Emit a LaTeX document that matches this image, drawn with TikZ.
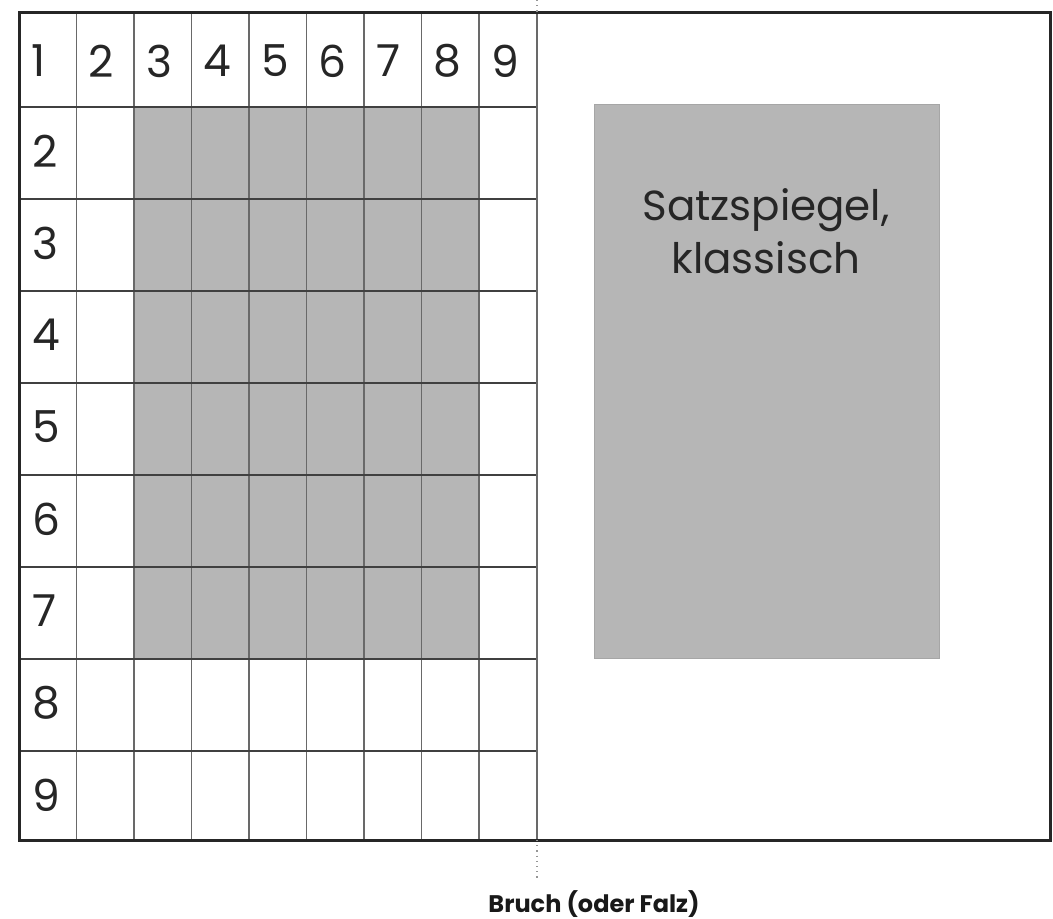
\documentclass[tikz,border=0pt]{standalone}
\usepackage{fontspec}
\setmainfont{Poppins}
\usepackage{xcolor}
\definecolor{satzgray}{RGB}{182,182,182}
\definecolor{rule}{RGB}{105,105,105}
\definecolor{fold}{RGB}{150,150,150}
\usepackage{tikz}
\usetikzlibrary{positioning}

\begin{document}
\begin{tikzpicture}[x=0.5pt, y=-0.5pt,
        frame/.style={line width=1.5pt, draw=black!85},
        vline/.style={line width=0.75pt, draw=rule},
        hline/.style={line width=0.8pt, draw=black!75},
        foldline/.style={line width=0.6pt, draw=fold, dotted},
        num/.style={anchor=west, inner sep=0pt, font=\fontsize{22}{22}\selectfont, text=black!85},
        satzbox/.style={rectangle, fill=satzgray, draw=black!35, line width=0.5pt, inner sep=0pt}
    ]
        \useasboundingbox (0,0) rectangle (1053,919);

        % type area, left page
        \fill[satzgray] (134,107) rectangle (479,659);
        % type area, right page
        \node[satzbox, minimum width=172.5pt, minimum height=276.5pt] (satz) at (766.5,381.5) {};
        \node[anchor=north, inner sep=0pt, align=center, font=\fontsize{21}{26.5}\selectfont, text=black!85]
            (satztext) at (766,188) {Satzspiegel,\\klassisch};

        % grid
        \foreach \i in {1,...,8}
            \draw[vline] (19+57.5*\i,13) -- (19+57.5*\i,840);
        \foreach \j in {0,...,7}
            \draw[hline] (19,107+92*\j) -- (537,107+92*\j);
        \draw[vline] (537,13) -- (537,840);
        \draw[frame] (19,13) rectangle (1050,840);

        % fold
        \coordinate (foldtop) at (537,0);
        \coordinate (foldbot) at (537,878);
        \draw[foldline] (foldtop) -- (537,13);
        \draw[foldline] (537,840) -- (foldbot);
        \node[anchor=base, inner sep=0pt, font=\bfseries\fontsize{12}{12}\selectfont, text=black!90]
            (bruch) at (594,912) {Bruch (oder Falz)};

        % numbers
        \foreach \i in {1,...,9}
            \node[num] (h\i) at (31+57.5*\i-57.5,61) {\i};
        \foreach \j in {2,...,9}
            \node[num] (v\j) at (32,151+92*\j-184) {\j};
    \end{tikzpicture}
\end{document}
